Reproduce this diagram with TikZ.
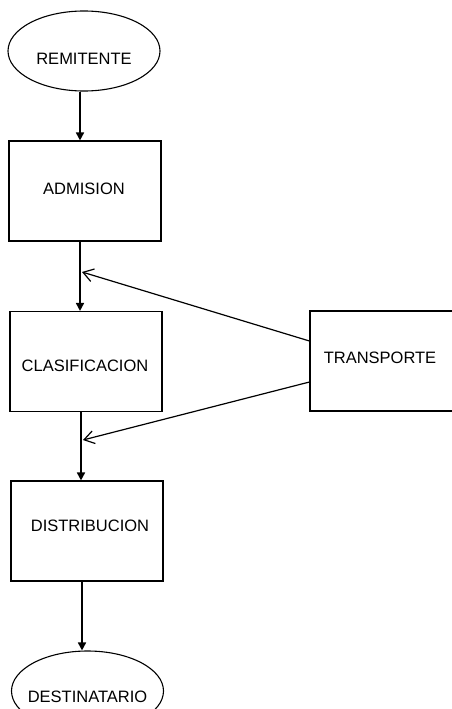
\documentclass[tikz,border=0pt]{standalone}
\usepackage{fontspec}
\setmainfont{Liberation Sans}
\usetikzlibrary{arrows.meta,shapes.geometric}
\begin{document}
\begin{tikzpicture}[x=1pt,y=-1pt,
  box/.style={draw,line width=1.1pt,minimum width=152pt,minimum height=100pt,inner sep=0pt},
  terminal/.style={draw,ellipse,line width=1.1pt,minimum width=152pt,minimum height=80pt,inner sep=0pt},
  label/.style={font=\fontsize{16.5}{18}\selectfont,inner sep=0pt},
  flow/.style={line width=1.6pt,-{Triangle[length=8pt,width=8pt]}},
  feed/.style={line width=1.2pt,-{Straight Barb[length=10pt,width=13pt,line width=1.2pt]}}]
\useasboundingbox (0,0) rectangle (452,709);
\fill[white] (0,0) rectangle (452,709);
\clip (0,0) rectangle (452,709);

% process boxes and terminals
\node[terminal] (rem) at (84,51) {};
\node[label] (remt) at (84,59) {REMITENTE};
\node[box] (adm) at (85,191) {};
\node[label] (admt) at (84,189) {ADMISION};
\node[box] (cla) at (86,361.5) {};
\node[label] (clat) at (85,366) {CLASIFICACION};
\node[box] (dis) at (87,531) {};
\node[label] (dist) at (90,526) {DISTRIBUCION};
\node[box,minimum width=146pt] (tra) at (383,361) {};
\node[label] (trat) at (380,358) {TRANSPORTE};
\node[terminal] (des) at (87.5,691) {};
\node[label] (dest) at (87.5,697) {DESTINATARIO};

% main flow
\draw[flow] (rem.south -| 80,0) -- (adm.north -| 80,0);
\draw[flow] (adm.south -| 80,0) -- (cla.north -| 80,0);
\draw[flow] (cla.south -| 81,0) -- (dis.north -| 81,0);
\draw[flow] (dis.south -| 82,0) -- (des.north -| 82,0);

% transport feedback into the flow
\coordinate (in1) at (82,272);
\coordinate (in2) at (83,440);
\draw[feed] (tra.west |- 0,341) -- (in1);
\draw[feed] (tra.west |- 0,382) -- (in2);
\end{tikzpicture}
\end{document}
